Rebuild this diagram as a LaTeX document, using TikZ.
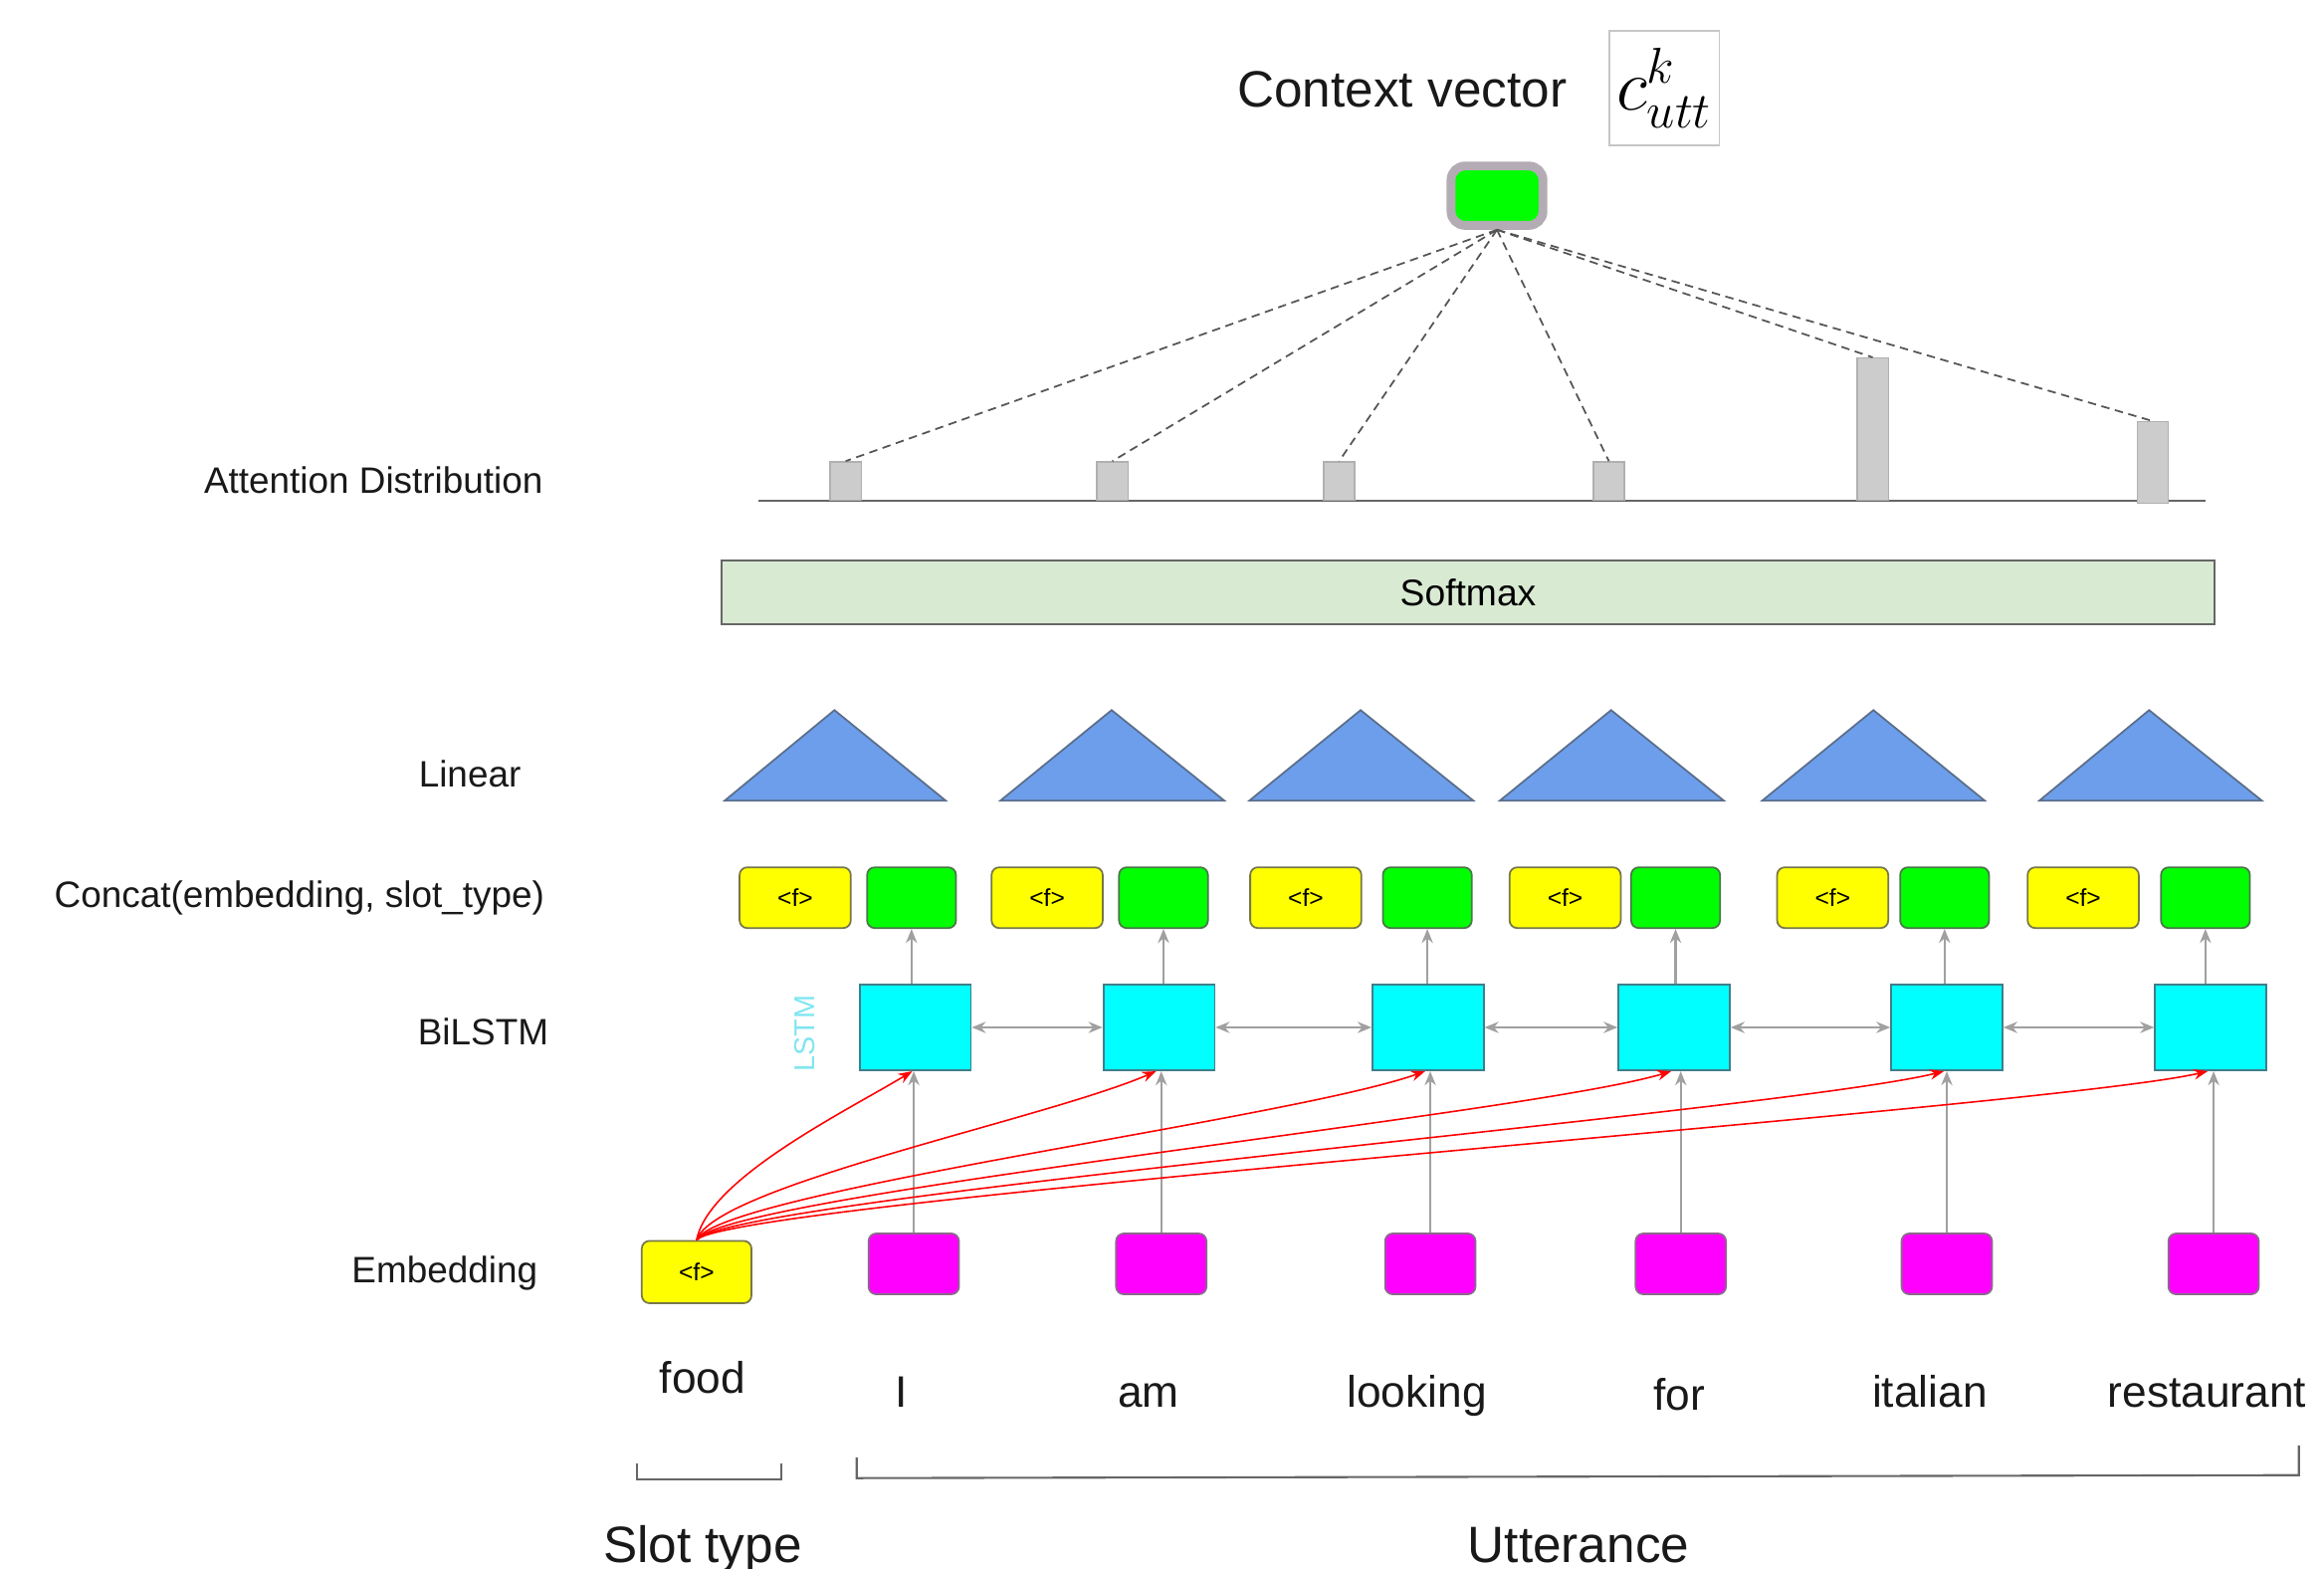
\documentclass[tikz,border=0pt]{standalone}
\usepackage{fontspec}
\setmainfont{Liberation Sans}
\usetikzlibrary{arrows.meta}
\newlength{\px}\setlength{\px}{0.01489cm}
\definecolor{bordergray}{HTML}{666666}
\definecolor{arrowgray}{HTML}{A0A0A0}
\definecolor{bargray}{HTML}{CCCCCC}
\definecolor{barborder}{HTML}{B0B0B0}
\definecolor{triblue}{HTML}{6D9EEB}
\definecolor{triborder}{HTML}{5A6E8A}
\definecolor{softgreen}{HTML}{D9EAD3}
\definecolor{lstmcyan}{HTML}{80E6F0}
\definecolor{dashgray}{HTML}{555555}
\definecolor{ctxborder}{HTML}{B4ACB4}
\definecolor{cyanborder}{HTML}{3F7F8A}
\definecolor{magborder}{HTML}{8A6A8A}
\definecolor{yelborder}{HTML}{77774A}
\definecolor{grnborder}{HTML}{4A774A}
\definecolor{cyanfill}{HTML}{00FFFF}
\definecolor{magfill}{HTML}{FF00FF}
\definecolor{yelfill}{HTML}{FFFF00}
\definecolor{grnfill}{HTML}{00FF00}
\begin{document}
\begin{tikzpicture}[x=0.01489cm, y=-0.01489cm,
  lbl/.style={font=\fontsize{10.5}{12}\selectfont, inner sep=0, anchor=base, text=black!90},
  word/.style={font=\fontsize{12.6}{14}\selectfont, inner sep=0, anchor=base, text=black!90},
  big/.style={font=\fontsize{14.6}{16}\selectfont, inner sep=0, anchor=base, text=black!90},
  rbox/.style={line width=0.5pt, rounded corners=2.2pt, inner sep=0},
  ybox/.style={rbox, draw=yelborder, fill=yelfill, minimum width=75\px, minimum height=41\px, font=\fontsize{7}{8}\selectfont},
  gbox/.style={rbox, draw=grnborder, fill=grnfill, minimum width=60\px, minimum height=41\px},
  cbox/.style={draw=cyanborder, line width=0.5pt, fill=cyanfill, minimum width=75\px, minimum height=58\px, inner sep=0},
  mbox/.style={rbox, draw=magborder, fill=magfill, minimum width=61\px, minimum height=41\px},
  bar/.style={draw=barborder, fill=bargray, line width=0.4pt, minimum width=21\px, inner sep=0, anchor=south},
  tri/.style={draw=triborder, fill=triblue, line width=0.5pt},
  att/.style={draw=dashgray, line width=0.5pt, dash pattern=on 2.4pt off 1.6pt},
  garrow/.style={draw=arrowgray, line width=0.7pt, -{Stealth[length=4pt,width=3.2pt]}},
  biarrow/.style={draw=arrowgray, line width=0.7pt, {Stealth[length=4pt,width=3.2pt]}-{Stealth[length=4pt,width=3.2pt]}},
  redarr/.style={draw=red, line width=0.45pt, -{Stealth[length=4pt,width=3pt]}},
  brk/.style={draw=bordergray, line width=0.6pt}
]
\useasboundingbox (0,0) rectangle (1568,1058);

% left labels
\node[lbl] (lattn) at (252,333) {Attention Distribution};
\node[lbl] (llin) at (317,531) {Linear};
\node[lbl] (lcat) at (202,612) {Concat(embedding, slot\_type)};
\node[lbl] (lbil) at (326,705) {BiLSTM};
\node[lbl] (lemb) at (300,865) {Embedding};

% context vector
\node[big] (ctxlabel) at (946,72) {Context vector};
\node[draw=gray!45, line width=0.5pt, minimum width=74\px, minimum height=77\px, inner sep=0, font=\fontsize{20}{20}\selectfont] (cutt) at (1123,59.5) {$c^{k}_{utt}$};
\node[fill=grnfill, draw=ctxborder, line width=6\px, rounded corners=4pt, minimum width=62\px, minimum height=40\px, inner sep=0] (ctx) at (1010,132) {};

% attention distribution
\draw[draw=bordergray, line width=0.6pt] (512,338) -- (1488,338);
\node[bar, minimum height=26\px] (b1) at (570.5,338) {};
\node[bar, minimum height=26\px] (b2) at (750.5,338) {};
\node[bar, minimum height=26\px] (b3) at (903.5,338) {};
\node[bar, minimum height=26\px] (b4) at (1085.5,338) {};
\node[bar, minimum height=96\px] (b5) at (1263.5,338) {};
\node[bar, minimum height=55\px] (b6) at (1452.5,340) {};
\foreach \b in {b1,b2,b3,b4,b5,b6} \draw[att] (ctx.south) -- (\b.north);

% softmax
\node[draw=bordergray, fill=softgreen, line width=0.6pt, minimum width=1007\px, minimum height=43\px, inner sep=0, font=\fontsize{10.6}{12}\selectfont] (soft) at (990.5,399.5) {Softmax};

% linear triangles
\foreach \l/\a/\r in {489/563/638, 675/750/826, 843/918/994, 1012/1087/1163, 1189/1264/1339, 1376/1450/1526}
  \draw[tri] (\l,540) -- (\a,479) -- (\r,540) -- cycle;

% concat row
\node[ybox] (y1) at (536.5,605.5) {<f>};
\node[gbox] (g1) at (615,605.5) {};
\node[ybox] (y2) at (706.5,605.5) {<f>};
\node[gbox] (g2) at (785,605.5) {};
\node[ybox] (y3) at (881,605.5) {<f>};
\node[gbox] (g3) at (963,605.5) {};
\node[ybox] (y4) at (1056,605.5) {<f>};
\node[gbox] (g4) at (1130.5,605.5) {};
\node[ybox] (y5) at (1236.5,605.5) {<f>};
\node[gbox] (g5) at (1312,605.5) {};
\node[ybox] (y6) at (1405.5,605.5) {<f>};
\node[gbox] (g6) at (1488,605.5) {};

% BiLSTM
\node[rotate=90, text=lstmcyan, font=\fontsize{8.2}{9}\selectfont, inner sep=0] (lstm) at (543,697) {LSTM};
\node[cbox] (c1) at (617.5,693) {};
\node[cbox] (c2) at (782,693) {};
\node[cbox] (c3) at (963.5,693) {};
\node[cbox] (c4) at (1129.5,693) {};
\node[cbox] (c5) at (1313.5,693) {};
\node[cbox] (c6) at (1491.5,693) {};
\draw[biarrow] (c1.east) -- (c2.west);
\draw[biarrow] (c2.east) -- (c3.west);
\draw[biarrow] (c3.east) -- (c4.west);
\draw[biarrow] (c4.east) -- (c5.west);
\draw[biarrow] (c5.east) -- (c6.west);
\foreach \i in {1,...,6} \draw[garrow] (c\i.north -| g\i.south) -- (g\i.south);

% embedding row
\node[ybox, minimum width=74\px, minimum height=42\px] (food) at (470,858) {<f>};
\node[mbox] (m1) at (616.5,852.5) {};
\node[mbox] (m2) at (783.5,852.5) {};
\node[mbox] (m3) at (965,852.5) {};
\node[mbox] (m4) at (1134,852.5) {};
\node[mbox] (m5) at (1313.5,852.5) {};
\node[mbox] (m6) at (1493.5,852.5) {};
\foreach \i in {1,...,6} \draw[garrow] (m\i.north) -- (m\i.north |- c\i.south);

% red slot-type connections
\draw[redarr] (food.north) .. controls (478,795) and (570,750) .. ([xshift=-2\px]c1.south);
\draw[redarr] (food.north) .. controls (482,800) and (705,755) .. ([xshift=-2\px]c2.south);
\draw[redarr] (food.north) .. controls (485,804) and (870,755) .. ([xshift=-2\px]c3.south);
\draw[redarr] (food.north) .. controls (488,806) and (1030,752) .. ([xshift=-2\px]c4.south);
\draw[redarr] (food.north) .. controls (490,808) and (1200,750) .. ([xshift=-2\px]c5.south);
\draw[redarr] (food.north) .. controls (492,810) and (1380,748) .. ([xshift=-2\px]c6.south);

% words
\node[word] (wfood) at (474,940) {food};
\node[word] (wI) at (608,949) {I};
\node[word] (wam) at (775,949) {am};
\node[word] (wlook) at (956,949) {looking};
\node[word] (wfor) at (1133,951) {for};
\node[word] (wital) at (1302,949) {italian};
\node[word] (wrest) at (1489,949) {restaurant};

% brackets
\draw[brk] (430,987) -- (430,998) -- (527,998) -- (527,987);
\draw[brk] (578,983) -- (578,997) -- (1551,995) -- (1551,975);
\node[big] (slot) at (474,1054) {Slot type};
\node[big] (utt) at (1065,1054) {Utterance};
\end{tikzpicture}
\end{document}
